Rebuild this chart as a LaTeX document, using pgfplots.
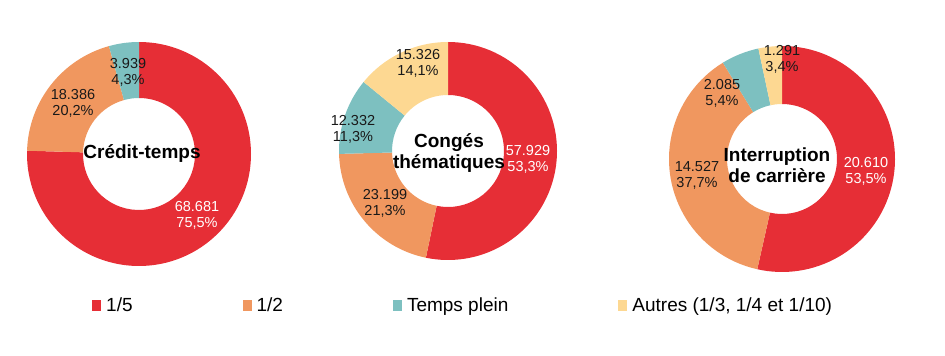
\documentclass[border=0pt]{standalone}
\usepackage{fontspec}
\setmainfont{Liberation Sans}
\usepackage{pgfplots}
\pgfplotsset{compat=1.18}
\definecolor{red1}{RGB}{230,46,54}
\definecolor{orange1}{RGB}{240,151,95}
\definecolor{teal1}{RGB}{125,192,192}
\definecolor{yellow1}{RGB}{253,216,146}
\definecolor{txt}{RGB}{25,25,25}

% values in thousands
\newcommand\donut[5]{% cx cy Router Rinner list value/colour
  \gdef\tot{0}%
  \foreach \v/\col in {#5}{\pgfmathsetmacro\tmp{\tot+\v}\xdef\tot{\tmp}}%
  \gdef\cum{0}%
  \foreach \v/\col in {#5}{%
    \pgfmathsetmacro\a{90-360*(\cum/\tot)}%
    \pgfmathsetmacro\b{90-360*((\cum+\v)/\tot)}%
    \edef\temp{\noexpand\fill[\col] ([shift={(\a:#3pt)}]axis cs:#1,#2) arc[start angle=\a,end angle=\b,radius=#3pt] -- ([shift={(\b:#4pt)}]axis cs:#1,#2) arc[start angle=\b,end angle=\a,radius=#4pt] -- cycle;}%
    \temp
    \pgfmathsetmacro\tmp{\cum+\v}\xdef\cum{\tmp}%
  }%
}

\tikzset{
  lbl/.style={align=center, font=\fontsize{14.5}{16}\selectfont, text=txt, inner sep=0pt},
  wlbl/.style={lbl, text=white},
  ttl/.style={align=center, font=\fontsize{19}{21}\selectfont\bfseries, text=black, inner sep=0pt},
}

\begin{document}
\begin{tikzpicture}
\begin{axis}[
  width=945pt, height=356pt, scale only axis,
  xmin=0, xmax=945, ymin=0, ymax=356,
  hide axis, clip=false,
  legend columns=4,
  legend style={draw=none, fill=none, inner sep=0pt,
    at={(axis cs:92,50.5)}, anchor=west,
    font=\fontsize{19}{21}\selectfont,
    /tikz/every odd column/.append style={column sep=3pt},
    /tikz/every even column/.append style={column sep=108pt}},
  legend image code/.code={\path[#1, draw=none] (0pt,-5.5pt) rectangle (9pt,5.5pt);},
]
\path (rel axis cs:0,0) rectangle (rel axis cs:1,1);

% Credit-temps
\donut{139}{202}{112}{56}{68.681/red1, 18.386/orange1, 3.939/teal1}
% Conges thematiques
\donut{448}{205}{109}{56}{57.929/red1, 23.199/orange1, 12.332/teal1, 15.326/yellow1}
% Interruption de carriere
\donut{782}{197}{113}{55}{20.610/red1, 14.527/orange1, 2.085/teal1, 1.291/yellow1}

% labels donut 1
\node[lbl]  at (axis cs:128,284) {3.939\\4,3\%};
\node[lbl]  at (axis cs:73,253)  {18.386\\20,2\%};
\node[wlbl] at (axis cs:197,141) {68.681\\75,5\%};
\node[ttl]  at (axis cs:142,202) {Crédit-temps};
% labels donut 2
\node[lbl]  at (axis cs:418,293) {15.326\\14,1\%};
\node[lbl]  at (axis cs:353,227) {12.332\\11,3\%};
\node[lbl]  at (axis cs:385,153) {23.199\\21,3\%};
\node[wlbl] at (axis cs:528,197) {57.929\\53,3\%};
\node[ttl]  at (axis cs:449,203) {Congés\\thématiques};
% labels donut 3
\node[lbl]  at (axis cs:782,297) {1.291\\3,4\%};
\node[lbl]  at (axis cs:722,263) {2.085\\5,4\%};
\node[lbl]  at (axis cs:697,181) {14.527\\37,7\%};
\node[wlbl] at (axis cs:866,185) {20.610\\53,5\%};
\node[ttl]  at (axis cs:777,191) {Interruption\\de carrière};

\addlegendimage{fill=red1}
\addlegendentry{1/5}
\addlegendimage{fill=orange1}
\addlegendentry{1/2}
\addlegendimage{fill=teal1}
\addlegendentry{Temps plein}
\addlegendimage{fill=yellow1}
\addlegendentry{Autres (1/3, 1/4 et 1/10)}
\end{axis}
\end{tikzpicture}
\end{document}
